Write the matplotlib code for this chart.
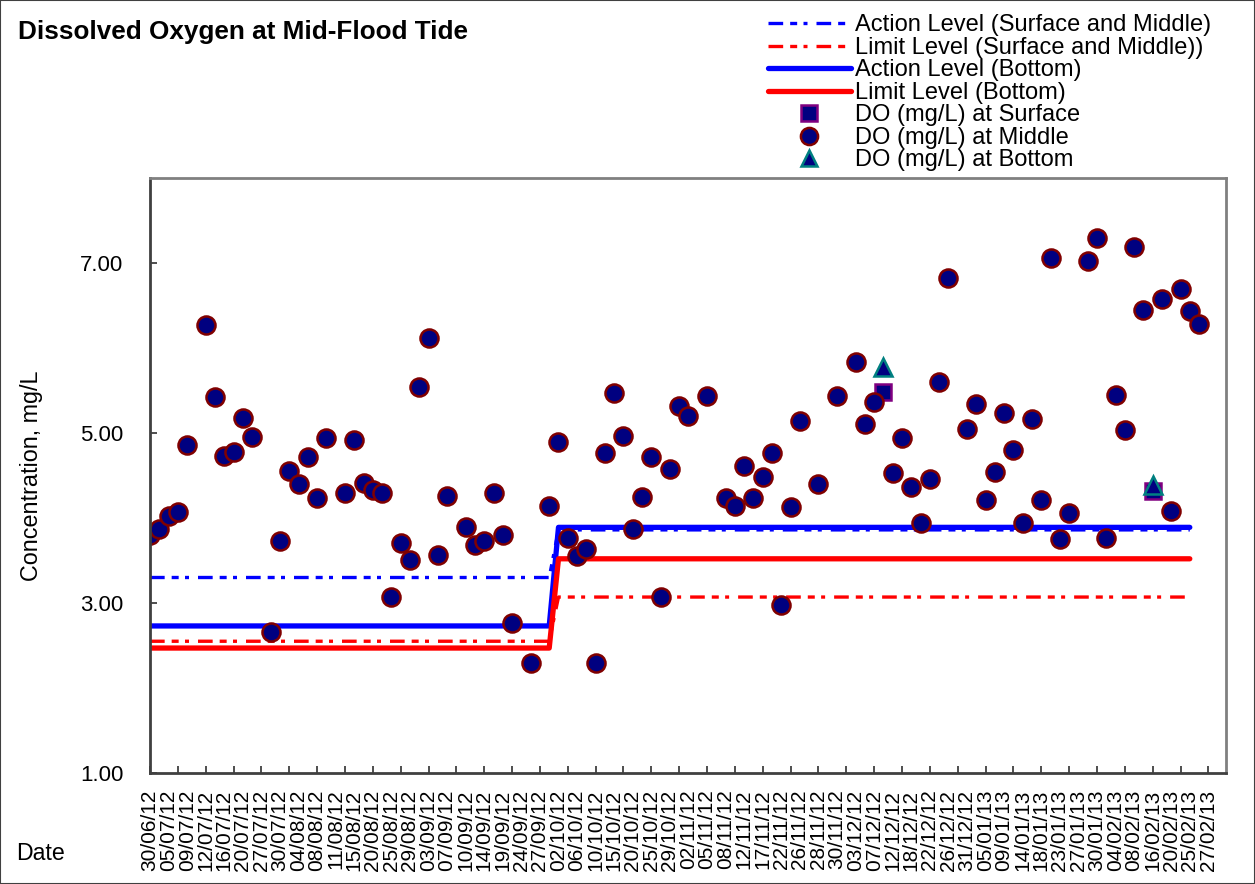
import numpy as np
import matplotlib
matplotlib.use("Agg")
import matplotlib.pyplot as plt
from matplotlib.patches import Rectangle

plt.rcParams["font.family"] = ["Liberation Sans", "DejaVu Sans"]

# x axis: 115 categories, every second one carries a date label
tick_labels = [
    "30/06/12", "05/07/12", "09/07/12", "12/07/12", "16/07/12", "20/07/12",
    "27/07/12", "30/07/12", "04/08/12", "08/08/12", "11/08/12", "15/08/12",
    "20/08/12", "25/08/12", "29/08/12", "03/09/12", "07/09/12", "10/09/12",
    "14/09/12", "19/09/12", "24/09/12", "27/09/12", "02/10/12", "06/10/12",
    "10/10/12", "15/10/12", "20/10/12", "25/10/12", "29/10/12", "02/11/12",
    "05/11/12", "08/11/12", "12/11/12", "17/11/12", "22/11/12", "26/11/12",
    "28/11/12", "30/11/12", "03/12/12", "07/12/12", "12/12/12", "18/12/12",
    "22/12/12", "26/12/12", "31/12/12", "05/01/13", "09/01/13", "14/01/13",
    "18/01/13", "23/01/13", "27/01/13", "30/01/13", "04/02/13", "08/02/13",
    "16/02/13", "20/02/13", "25/02/13", "27/02/13",
]
n_cat = 115

# DO at middle depth, one value per category (None = no reading)
do_middle = [
    3.80, 3.87, 4.02, 4.07, 4.86, None, 6.27, 5.42, 4.73, 4.78,
    5.18, 4.95, None, 2.66, 3.73, 4.55, 4.40, 4.72, 4.24, 4.94,
    None, 4.30, 4.92, 4.41, 4.33, 4.30, 3.07, 3.71, 3.51, 5.54,
    6.12, 3.56, 4.26, None, 3.89, 3.68, 3.73, 4.30, 3.80, 2.76,
    None, 2.30, None, 4.14, 4.89, 3.77, 3.55, 3.64, 2.30, 4.76,
    5.47, 4.96, 3.87, 4.25, 4.72, 3.07, 4.58, 5.32, 5.20, None,
    5.43, None, 4.24, 4.14, 4.61, 4.24, 4.48, 4.76, 2.98, 4.13,
    5.14, None, 4.40, None, 5.43, None, 5.84, 5.11, 5.37, None,
    4.53, 4.94, 4.37, 3.94, 4.46, 5.60, 6.82, None, 5.05, 5.34,
    4.21, 4.54, 5.24, 4.80, 3.94, 5.16, 4.21, 7.06, 3.75, 4.06,
    None, 7.02, 7.30, 3.77, 5.45, 5.04, 7.19, 6.45, None, 6.58,
    4.08, 6.70, 6.44, 6.28, None,
]

# surface and bottom readings (category index, value)
surface_idx = [79, 108]
do_surface = [5.48, 4.32]
bottom_idx = [79, 108]
do_bottom = [5.78, 4.39]

# criteria lines: level before / after the change
level_idx = [0, 43, 44, 112]
action_sm = [3.30, 3.30, 3.86, 3.86]
limit_sm = [2.55, 2.55, 3.07, 3.07]
action_b = [2.73, 2.73, 3.89, 3.89]
limit_b = [2.47, 2.47, 3.52, 3.52]

x = np.arange(n_cat)
mid = np.array(do_middle, dtype=float)

fig = plt.figure(figsize=(12.55, 8.84), dpi=100)
ax = fig.add_axes([150 / 1255, 1 - 773 / 884, 1076 / 1255, 595 / 884])

dashdot = (0, (4.4, 2.1, 2.1, 1.9, 1.2, 2.7))
l1, = ax.plot(level_idx, action_sm, color="#0000ff", lw=2.4, ls=dashdot)
l2, = ax.plot(level_idx, limit_sm, color="#ff0000", lw=2.4, ls=dashdot)
l3, = ax.plot(level_idx, action_b, color="#0000ff", lw=3.8, solid_capstyle="round")
l4, = ax.plot(level_idx, limit_b, color="#ff0000", lw=3.8, solid_capstyle="round")

m1, = ax.plot(surface_idx, do_surface, ls="none", marker="s", ms=11.5,
              mfc="#000080", mec="#800080", mew=1.8)
m2, = ax.plot(x, mid, ls="none", marker="o", ms=13,
              mfc="#000080", mec="#800000", mew=1.8)
m3, = ax.plot(bottom_idx, do_bottom, ls="none", marker="^", ms=12.5,
              mfc="#000080", mec="#008080", mew=1.8)

ax.set_xlim(0, 115.9)
ax.set_ylim(1, 8)
ax.set_yticks([1, 3, 5, 7])
ax.set_yticklabels(["1.00", "3.00", "5.00", "7.00"], fontsize=16)
ax.xaxis.remove_overlapping_locs = False
ax.set_xticks(np.arange(0, n_cat, 2))
ax.set_xticklabels(tick_labels, rotation=90, fontsize=15)
ax.set_xticks(np.arange(0, n_cat, 3), minor=True)
ax.tick_params(axis="x", which="major", length=0, pad=12)
ax.tick_params(axis="x", which="minor", direction="in", length=5, width=1.2, color="#303030")
ax.tick_params(axis="y", direction="in", length=5, width=1.2, color="#303030", pad=19)
for s in ax.spines.values():
    s.set_color("#808080")
    s.set_linewidth(2)
ax.spines["bottom"].set_color("#404040")
ax.spines["left"].set_color("#404040")

ax.set_ylabel("Concentration, mg/L", fontsize=16.8)
ax.yaxis.set_label_coords(-(150 - 43) / 1076, 0.5)

fig.text(18 / 1255, 1 - 32 / 884, "Dissolved Oxygen at Mid-Flood Tide",
         fontsize=18.8, fontweight="bold", va="center", ha="left")
fig.text(16 / 1255, 1 - 853 / 884, "Date", fontsize=16.7, va="center", ha="left")

fig.legend([l1, l2, l3, l4, m1, m2, m3],
           ["Action Level (Surface and Middle)",
            "Limit Level (Surface and Middle))",
            "Action Level (Bottom)", "Limit Level (Bottom)",
            "DO (mg/L) at Surface", "DO (mg/L) at Middle", "DO (mg/L) at Bottom"],
           loc="upper left", bbox_to_anchor=(768 / 1255, 1 - 14.5 / 884),
           frameon=False, fontsize=17, handlelength=3.5, handletextpad=0.2,
           labelspacing=0.02, borderaxespad=0, borderpad=0, markerscale=0.95)

fig.add_artist(Rectangle((0, 0), 1, 1, transform=fig.transFigure,
                         fill=False, edgecolor="#404040", lw=1.5))

fig.savefig("out.png", dpi=100)
